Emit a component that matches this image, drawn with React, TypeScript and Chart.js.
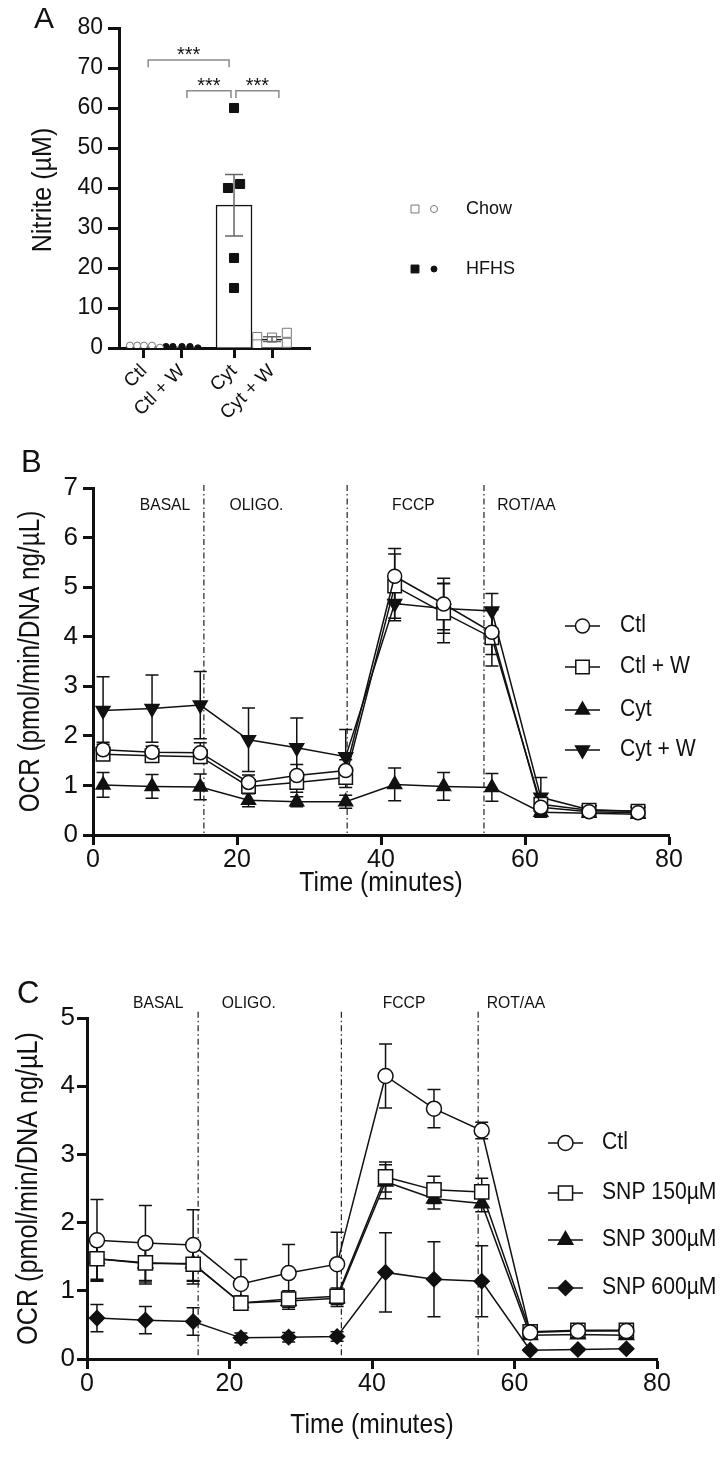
import React, { useEffect, useRef } from "react";
import { Chart, registerables } from "chart.js";

Chart.register(...registerables);

const FONT = "'Liberation Sans', Arial, Helvetica, sans-serif";
const INK = "#111111";

// ---------------- Panel A : nitrite ----------------
const nitriteCategories = ["Ctl", "Ctl + W", "Cyt", "Cyt + W"];
const nitritePositions = [1, 2, 3.37, 4.37];
const nitriteMeans = [0.45, 0.3, 35.7, 2.2];
const nitriteSem = [0, 0, 7.7, 0.6];
const ctlValues = [0.6, 0.6, 0.6, 0.6, 0.1];
const ctlJitter = [-0.37, -0.18, 0, 0.21, 0.42];
const ctlWValues = [0.35, 0.35, 0.35, 0.35, 0.0];
const ctlWJitter = [-0.42, -0.24, 0, 0.21, 0.42];
const cytValues = [40, 60, 41, 22.5, 15];
const cytJitter = [-0.16, 0, 0.16, 0, 0];
const cytWValues = [2.75, 0.9, 2.6, 3.8, 1.3];
const cytWJitter = [-0.39, -0.39, 0, 0.39, 0.39];
const bracketFrom = [1.11, 2.13, 3.42];
const bracketTo = [3.24, 3.29, 4.55];
const bracketLevel = [72, 64.3, 64.3];
const bracketFoot = [70.2, 62.5, 62.5];
const bracketLabels = ["***", "***", "***"];
const dietLabels = ["Chow", "HFHS"];

// ---------------- Panels B & C : OCR ----------------
const seahorseTimes = [1.4, 8.2, 14.9, 21.6, 28.3, 35.1, 41.9, 48.7, 55.4, 62.2, 68.9, 75.7];
const phaseNames = ["BASAL", "OLIGO.", "FCCP", "ROT/AA"];
const phaseLabelX = [10, 22.7, 44.5, 60.2];
const injectionsB = [15.4, 35.3, 54.3];
const injectionsC = [15.6, 35.7, 54.9];

const ctlB = [1.72, 1.67, 1.66, 1.06, 1.2, 1.3, 5.22, 4.66, 4.09, 0.56, 0.47, 0.45];
const ctlBErr = [0.15, 0.12, 0.2, 0.15, 0.22, 0.22, 0.56, 0.52, 0.45, 0.1, 0.06, 0.05];
const ctlWB = [1.63, 1.6, 1.58, 0.98, 1.06, 1.16, 5.02, 4.48, 3.98, 0.62, 0.5, 0.48];
const ctlWBErr = [0.12, 0.12, 0.12, 0.12, 0.2, 0.2, 0.65, 0.6, 0.57, 0.1, 0.05, 0.05];
const cytB = [1.01, 0.98, 0.97, 0.7, 0.67, 0.67, 1.02, 0.98, 0.96, 0.46, 0.44, 0.42];
const cytBErr = [0.25, 0.24, 0.26, 0.13, 0.1, 0.13, 0.33, 0.28, 0.28, 0.08, 0.05, 0.05];
const cytWB = [2.51, 2.55, 2.62, 1.92, 1.76, 1.58, 4.67, 4.57, 4.52, 0.76, 0.51, 0.48];
const cytWBErr = [0.68, 0.68, 0.68, 0.64, 0.6, 0.55, 0.35, 0.5, 0.35, 0.4, 0.06, 0.05];

const ctlC = [1.74, 1.7, 1.67, 1.1, 1.26, 1.39, 4.15, 3.67, 3.35, 0.39, 0.41, 0.41];
const ctlCErr = [0.6, 0.55, 0.52, 0.36, 0.42, 0.47, 0.47, 0.28, 0.12, 0.05, 0.04, 0.04];
const snp150 = [1.47, 1.41, 1.39, 0.82, 0.88, 0.92, 2.67, 2.48, 2.45, 0.4, 0.42, 0.42];
const snp150Err = [0.3, 0.28, 0.25, 0.1, 0.12, 0.12, 0.22, 0.2, 0.2, 0.04, 0.04, 0.04];
const snp300 = [1.47, 1.4, 1.4, 0.82, 0.85, 0.89, 2.6, 2.35, 2.28, 0.35, 0.36, 0.35];
const snp300Err = [0.32, 0.3, 0.3, 0.1, 0.12, 0.12, 0.25, 0.15, 0.12, 0.04, 0.04, 0.04];
const snp600 = [0.6, 0.57, 0.55, 0.31, 0.32, 0.33, 1.27, 1.17, 1.14, 0.13, 0.14, 0.15];
const snp600Err = [0.2, 0.2, 0.2, 0.07, 0.07, 0.07, 0.58, 0.55, 0.52, 0.02, 0.02, 0.02];

type Series = {
  label: string;
  values: number[];
  errors: number[];
  style: string;
  rotation: number;
  filled: boolean;
  radius: number;
};

const seriesB: Series[] = [
  { label: "Ctl", values: ctlB, errors: ctlBErr, style: "circle", rotation: 0, filled: false, radius: 7 },
  { label: "Ctl + W", values: ctlWB, errors: ctlWBErr, style: "rect", rotation: 0, filled: false, radius: 9.5 },
  { label: "Cyt", values: cytB, errors: cytBErr, style: "triangle", rotation: 0, filled: true, radius: 8 },
  { label: "Cyt + W", values: cytWB, errors: cytWBErr, style: "triangle", rotation: 180, filled: true, radius: 8 },
];

const seriesC: Series[] = [
  { label: "Ctl", values: ctlC, errors: ctlCErr, style: "circle", rotation: 0, filled: false, radius: 7.5 },
  { label: "SNP 150µM", values: snp150, errors: snp150Err, style: "rect", rotation: 0, filled: false, radius: 10 },
  { label: "SNP 300µM", values: snp300, errors: snp300Err, style: "triangle", rotation: 0, filled: true, radius: 8.5 },
  { label: "SNP 600µM", values: snp600, errors: snp600Err, style: "rectRot", rotation: 0, filled: true, radius: 7.5 },
];

// draw text, optionally horizontally condensed and rotated
function drawText(
  ctx: CanvasRenderingContext2D,
  str: string,
  x: number,
  y: number,
  size: number,
  squeeze: number,
  align: CanvasTextAlign,
  baseline: CanvasTextBaseline,
  rotated = false
) {
  ctx.save();
  ctx.translate(x, y);
  if (rotated) ctx.rotate(-Math.PI / 2);
  ctx.scale(squeeze, 1);
  ctx.font = `${size}px ${FONT}`;
  ctx.fillStyle = INK;
  ctx.textAlign = align;
  ctx.textBaseline = baseline;
  ctx.fillText(str, 0, 0);
  ctx.restore();
}

function drawMarker(ctx: CanvasRenderingContext2D, style: string, x: number, y: number, r: number, rotation: number, fill: string, stroke: string, lw: number) {
  ctx.save();
  ctx.beginPath();
  let a = (rotation * Math.PI) / 180;
  if (style === "circle") {
    ctx.arc(x, y, r, 0, Math.PI * 2);
  } else if (style === "rect") {
    const h = r * Math.SQRT1_2;
    ctx.rect(x - h, y - h, 2 * h, 2 * h);
  } else if (style === "triangle") {
    ctx.moveTo(x + Math.sin(a) * r, y - Math.cos(a) * r);
    a += (2 * Math.PI) / 3;
    ctx.lineTo(x + Math.sin(a) * r, y - Math.cos(a) * r);
    a += (2 * Math.PI) / 3;
    ctx.lineTo(x + Math.sin(a) * r, y - Math.cos(a) * r);
    ctx.closePath();
  } else if (style === "rectRot") {
    ctx.moveTo(x - r, y);
    ctx.lineTo(x, y - r);
    ctx.lineTo(x + r, y);
    ctx.lineTo(x, y + r);
    ctx.closePath();
  }
  ctx.fillStyle = fill;
  ctx.fill();
  ctx.lineWidth = lw;
  ctx.strokeStyle = stroke;
  ctx.stroke();
  ctx.restore();
}

function errorBarPlugin(after: boolean) {
  const draw = (chart: any) => {
    const ctx = chart.ctx as CanvasRenderingContext2D;
    const yScale = chart.scales.y;
    chart.data.datasets.forEach((ds: any, i: number) => {
      if (!ds.errors) return;
      const meta = chart.getDatasetMeta(i);
      ctx.save();
      ctx.strokeStyle = ds.errorColor || INK;
      ctx.lineWidth = ds.errorWidth || 1.5;
      meta.data.forEach((el: any, j: number) => {
        const e = ds.errors[j];
        if (!e) return;
        const d = ds.data[j];
        const v = typeof d === "number" ? d : d.y;
        const x = el.x;
        const yt = yScale.getPixelForValue(v + e);
        const yb = yScale.getPixelForValue(v - e);
        const h = ds.capHalf || 6;
        ctx.beginPath();
        ctx.moveTo(x, yt);
        ctx.lineTo(x, yb);
        ctx.moveTo(x - h, yt);
        ctx.lineTo(x + h, yt);
        ctx.moveTo(x - h, yb);
        ctx.lineTo(x + h, yb);
        ctx.stroke();
      });
      ctx.restore();
    });
  };
  return after
    ? { id: "errorBarsAfter", afterDatasetsDraw: draw }
    : { id: "errorBarsBefore", beforeDatasetsDraw: draw };
}

function buildNitrite(canvas: HTMLCanvasElement) {
  const jittered = (vals: number[], jit: number[], cat: number) =>
    vals.map((v, i) => ({ x: nitritePositions[cat] + jit[i], y: v }));
  const annotate = {
    id: "nitriteAnnotations",
    afterDraw(chart: any) {
      const ctx = chart.ctx as CanvasRenderingContext2D;
      const xs = chart.scales.x;
      const ys = chart.scales.y;
      const area = chart.chartArea;
      ctx.save();
      // significance brackets
      ctx.strokeStyle = "#8a8a8a";
      ctx.lineWidth = 1.5;
      bracketFrom.forEach((f, i) => {
        const x1 = xs.getPixelForValue(f);
        const x2 = xs.getPixelForValue(bracketTo[i]);
        const y = ys.getPixelForValue(bracketLevel[i]);
        const yf = ys.getPixelForValue(bracketFoot[i]);
        ctx.beginPath();
        ctx.moveTo(x1, yf);
        ctx.lineTo(x1, y);
        ctx.lineTo(x2, y);
        ctx.lineTo(x2, yf);
        ctx.stroke();
        drawText(ctx, bracketLabels[i], (x1 + x2) / 2, y + 1, 20, 1, "center", "alphabetic");
      });
      // axis title
      drawText(ctx, "Nitrite (µM)", 43, (area.top + area.bottom) / 2 + 2, 28.5, 0.88, "center", "middle", true);
      // panel letter
      drawText(ctx, "A", 34, 28, 30, 1, "left", "alphabetic");
      // legend
      const rows = [209, 269];
      dietLabels.forEach((lab, i) => {
        const filled = i === 1;
        const y = rows[i];
        drawMarker(ctx, "rect", 415, y, 5.6, 0, filled ? INK : "#fff", filled ? INK : "#777", 1);
        drawMarker(ctx, "circle", 434, y, filled ? 3 : 3.5, 0, filled ? INK : "#fff", filled ? INK : "#777", 1);
        drawText(ctx, lab, 466, y, 18, 1, "left", "middle");
      });
      ctx.restore();
    },
  };
  return new Chart(canvas, {
    type: "bar",
    data: {
      datasets: [
        {
          type: "scatter",
          data: jittered(ctlValues, ctlJitter, 0),
          pointStyle: "circle",
          pointRadius: 3.5,
          pointBackgroundColor: "#fff",
          pointBorderColor: "#777",
          pointBorderWidth: 1,
          order: 1,
        } as any,
        {
          type: "scatter",
          data: jittered(ctlWValues, ctlWJitter, 1),
          pointStyle: "circle",
          pointRadius: 3.2,
          pointBackgroundColor: INK,
          pointBorderColor: INK,
          pointBorderWidth: 1,
          order: 1,
        } as any,
        {
          type: "scatter",
          data: jittered(cytValues, cytJitter, 2),
          pointStyle: "rect",
          pointRadius: 6.4,
          pointBackgroundColor: INK,
          pointBorderColor: INK,
          pointBorderWidth: 1,
          order: 1,
        } as any,
        {
          type: "scatter",
          data: jittered(cytWValues, cytWJitter, 3),
          pointStyle: "rect",
          pointRadius: 6.4,
          pointBackgroundColor: "#fff",
          pointBorderColor: "#777",
          pointBorderWidth: 1,
          order: 1,
        } as any,
        {
          type: "bar",
          data: nitritePositions.map((x, i) => ({ x, y: nitriteMeans[i] })),
          backgroundColor: "#fff",
          borderColor: INK,
          borderWidth: 1.5,
          barThickness: 36,
          errors: nitriteSem,
          errorColor: "#666",
          capHalf: 9,
          order: 2,
        } as any,
      ],
    },
    options: {
      animation: false,
      responsive: false,
      events: [],
      layout: { padding: { top: 28, left: 0, right: 728 - 310, bottom: 0 } },
      plugins: { legend: { display: false }, tooltip: { enabled: false } },
      scales: {
        x: {
          type: "linear",
          min: 0.342,
          max: 5.37,
          offset: false,
          afterBuildTicks: (s: any) => {
            s.ticks = nitritePositions.map((v) => ({ value: v }));
          },
          ticks: {
            autoSkip: false,
            maxRotation: 45,
            minRotation: 45,
            padding: 2,
            color: INK,
            font: { family: FONT, size: 19 },
            callback: (_v: any, i: number) => nitriteCategories[i],
          },
          grid: { offset: false, drawOnChartArea: false, drawTicks: true, tickLength: 10, tickWidth: 3, tickColor: INK },
          border: { display: true, width: 3, color: INK },
          afterFit: (s: any) => {
            s.height = 440 - 348;
          },
        } as any,
        y: {
          min: 0,
          max: 80,
          ticks: { stepSize: 10, padding: 5, color: INK, font: { family: FONT, size: 23 } },
          grid: { drawOnChartArea: false, drawTicks: true, tickLength: 11, tickWidth: 3, tickColor: INK },
          border: { display: true, width: 3, color: INK },
          afterFit: (s: any) => {
            s.width = 119;
          },
        } as any,
      },
    },
    plugins: [errorBarPlugin(true), annotate],
  } as any);
}

type OcrLayout = {
  height: number;
  left: number;
  right: number;
  plotTop: number;
  plotBottom: number;
  ymax: number;
  injections: number[];
  phaseY: number;
  lineTop: number;
  letter: string;
  letterX: number;
  letterY: number;
  legendX1: number;
  legendX2: number;
  legendTextX: number;
  legendRows: number[];
  yTitleX: number;
  yTitleSqueeze: number;
  xTitleY: number;
  yTickPad: number;
};

function buildOcr(canvas: HTMLCanvasElement, series: Series[], L: OcrLayout) {
  const annotate = {
    id: "ocrAnnotations",
    beforeDatasetsDraw(chart: any) {
      const ctx = chart.ctx as CanvasRenderingContext2D;
      const xs = chart.scales.x;
      const ys = chart.scales.y;
      ctx.save();
      ctx.strokeStyle = "#222";
      ctx.lineWidth = 1.2;
      ctx.setLineDash([6, 3, 1.5, 3]);
      L.injections.forEach((t) => {
        const x = xs.getPixelForValue(t);
        ctx.beginPath();
        ctx.moveTo(x, ys.getPixelForValue(L.lineTop));
        ctx.lineTo(x, ys.getPixelForValue(0));
        ctx.stroke();
      });
      ctx.setLineDash([]);
      phaseNames.forEach((p, i) => {
        drawText(ctx, p, xs.getPixelForValue(phaseLabelX[i]), ys.getPixelForValue(L.phaseY), 16.5, 0.95, "center", "middle");
      });
      ctx.restore();
    },
    afterDraw(chart: any) {
      const ctx = chart.ctx as CanvasRenderingContext2D;
      const area = chart.chartArea;
      ctx.save();
      drawText(ctx, L.letter, L.letterX, L.letterY, 31, 1, "left", "alphabetic");
      drawText(ctx, "OCR (pmol/min/DNA ng/µL)", L.yTitleX, (area.top + area.bottom) / 2, 30, L.yTitleSqueeze, "center", "middle", true);
      drawText(ctx, "Time (minutes)", (area.left + area.right) / 2, L.xTitleY, 28, 0.88, "center", "middle");
      series.forEach((s, i) => {
        const y = L.legendRows[i];
        ctx.strokeStyle = INK;
        ctx.lineWidth = 1.5;
        ctx.beginPath();
        ctx.moveTo(L.legendX1, y);
        ctx.lineTo(L.legendX2, y);
        ctx.stroke();
        drawMarker(ctx, s.style, (L.legendX1 + L.legendX2) / 2, y, s.radius, s.rotation, s.filled ? INK : "#fff", INK, 1.5);
        drawText(ctx, s.label, L.legendTextX, y, 23.5, 0.9, "left", "middle");
      });
      ctx.restore();
    },
  };
  return new Chart(canvas, {
    type: "line",
    data: {
      datasets: series.map((s) => ({
        label: s.label,
        data: seahorseTimes.map((t, i) => ({ x: t, y: s.values[i] })),
        errors: s.errors,
        capHalf: 6.5,
        borderColor: INK,
        borderWidth: 1.5,
        pointStyle: s.style,
        pointRadius: s.radius,
        pointRotation: s.rotation,
        pointBackgroundColor: s.filled ? INK : "#fff",
        pointBorderColor: INK,
        pointBorderWidth: 1.5,
        tension: 0,
        fill: false,
        clip: false,
      })) as any,
    },
    options: {
      animation: false,
      responsive: false,
      events: [],
      layout: { padding: { top: L.plotTop, left: 0, right: 728 - L.right, bottom: 0 } },
      plugins: { legend: { display: false }, tooltip: { enabled: false } },
      scales: {
        x: {
          type: "linear",
          min: 0,
          max: 80,
          ticks: { stepSize: 20, autoSkip: false, maxRotation: 0, padding: 0, color: INK, font: { family: FONT, size: 25 } },
          grid: { drawOnChartArea: false, drawTicks: true, tickLength: 10, tickWidth: 3, tickColor: INK },
          border: { display: true, width: 3, color: INK },
          afterFit: (s: any) => {
            s.height = L.height - L.plotBottom;
          },
        } as any,
        y: {
          min: 0,
          max: L.ymax,
          ticks: { stepSize: 1, autoSkip: false, padding: L.yTickPad, color: INK, font: { family: FONT, size: 26 } },
          grid: { drawOnChartArea: false, drawTicks: true, tickLength: 10, tickWidth: 3, tickColor: INK },
          border: { display: true, width: 3, color: INK },
          afterFit: (s: any) => {
            s.width = L.left;
          },
        } as any,
      },
    },
    plugins: [errorBarPlugin(false), annotate],
  } as any);
}

const layoutB: OcrLayout = {
  height: 490,
  left: 93,
  right: 669,
  plotTop: 58,
  plotBottom: 405,
  ymax: 7,
  injections: injectionsB,
  phaseY: 6.65,
  lineTop: 7.06,
  letter: "B",
  letterX: 21,
  letterY: 42,
  legendX1: 565,
  legendX2: 600,
  legendTextX: 620,
  legendRows: [196, 237, 280, 320],
  yTitleX: 31,
  yTitleSqueeze: 0.81,
  xTitleY: 453,
  yTickPad: 5,
};

const layoutC: OcrLayout = {
  height: 541,
  left: 87,
  right: 657,
  plotTop: 98,
  plotBottom: 439,
  ymax: 5,
  injections: injectionsC,
  phaseY: 5.22,
  lineTop: 5.09,
  letter: "C",
  letterX: 17,
  letterY: 83,
  legendX1: 548,
  legendX2: 583,
  legendTextX: 602,
  legendRows: [223, 273, 320, 368],
  yTitleX: 29,
  yTitleSqueeze: 0.84,
  xTitleY: 505,
  yTickPad: 2,
};

export default function App() {
  const aRef = useRef<HTMLCanvasElement>(null);
  const bRef = useRef<HTMLCanvasElement>(null);
  const cRef = useRef<HTMLCanvasElement>(null);
  useEffect(() => {
    document.body.style.margin = "0";
    const charts: Chart[] = [];
    if (aRef.current) charts.push(buildNitrite(aRef.current));
    if (bRef.current) charts.push(buildOcr(bRef.current, seriesB, layoutB));
    if (cRef.current) charts.push(buildOcr(cRef.current, seriesC, layoutC));
    return () => charts.forEach((c) => c.destroy());
  }, []);
  return (
    <div style={{ position: "relative", width: 728, height: 1461, background: "#fff", overflow: "hidden" }}>
      <canvas ref={aRef} width={728} height={440} style={{ position: "absolute", left: 0, top: 0 }} />
      <canvas ref={bRef} width={728} height={490} style={{ position: "absolute", left: 0, top: 430 }} />
      <canvas ref={cRef} width={728} height={541} style={{ position: "absolute", left: 0, top: 920 }} />
    </div>
  );
}
